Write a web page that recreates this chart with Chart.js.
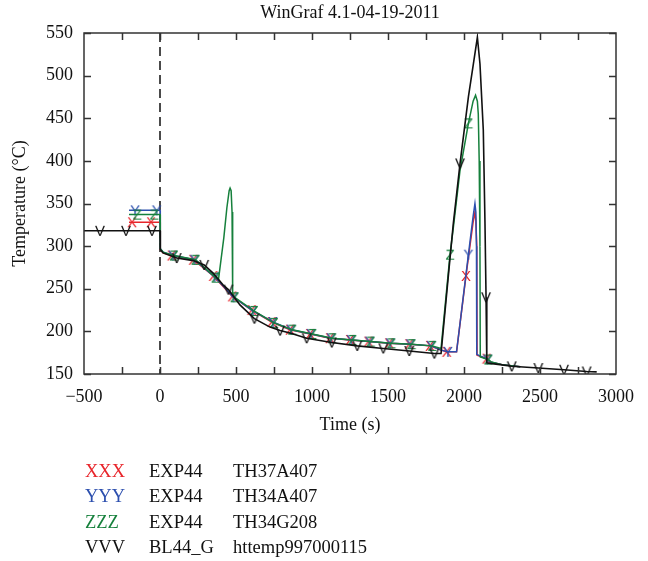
<!DOCTYPE html>
<html>
<head>
<meta charset="utf-8">
<script src="https://cdn.jsdelivr.net/npm/chart.js@4.4.0/dist/chart.umd.min.js"></script>
<style>
html,body{margin:0;padding:0;background:#fff;}
#wrap{position:relative;width:648px;height:561px;}
#c{position:absolute;left:0;top:0;}
#key{position:absolute;left:0;top:459px;font-family:'Liberation Serif',serif;font-size:18.5px;line-height:25.3px;color:#111;}
#key .row{position:relative;height:25.3px;width:648px;white-space:nowrap;}
#key span{position:absolute;top:0;}
</style>
</head>
<body>
<div id="wrap"><canvas id="c" width="648" height="561"></canvas><div id="key"></div></div>
<script>
// XXX  EXP44 TH37A407
const xxxTime=[-204,-184,-59,0,2,20,77,219,351,476,603,735,855,987,1118,1250,1371,1507,1640,1776,1849,1886,1951,2013,2060,2072,2078,2084,2086,2149,2171,2250,2370];
const xxxTemp=[328,328,328,328,296,292,289,284,265,241,225,211,202,197,192,190,188,186,185,183,178,176,176,265,328,340,330,300,172,168,164,161,158.5];
const xxxMarks=[-184,-59,77,219,351,476,603,735,855,987,1118,1250,1371,1507,1640,1776,1886,2013,2149];
// YYY  EXP44 TH34A407
const yyyTime=[-204,-164,-22,0,2,20,85,227,359,484,611,743,863,995,1126,1258,1379,1515,1648,1784,1849,1894,1951,2029,2060,2072,2078,2082,2084,2155,2175,2250,2370];
const yyyTemp=[342,342,342,342,297,293,289,284,264,240,224,211,202,197,192,190,188,186,185,183,178,176,176,290,335,350,340,300,173,167,164,161,158.5];
const yyyMarks=[-164,-22,85,227,359,484,611,743,863,995,1126,1258,1379,1515,1648,1784,1894,2029,2155];
// ZZZ  EXP44 TH34G208
const zzzTime=[-204,-150,-38,0,2,20,92,234,366,385,420,440,455,461,468,474,477,479,491,618,750,870,1002,1133,1265,1386,1522,1655,1791,1849,1908,1930,1974,2029,2060,2076,2088,2094,2100,2105,2107,2160,2180,2250,2370];
const zzzTemp=[337,337,337,337,297,293,289,284,263,261,310,345,365,368,365,340,300,245,240,224,210,202,197,192,190,188,186,185,183,180,290,322,389,444,470,477,470,455,400,300,170,167,164,161,158.5];
const zzzMarks=[-150,-38,92,234,366,491,618,750,870,1002,1133,1265,1386,1522,1655,1791,1908,2029,2160];
// VVV  BL44_G httemp997000115
const vvvTime=[-500,-395,-224,-53,0,2,20,110,219,291,351,417,450,526,621,724,790,855,965,1130,1298,1469,1640,1805,1849,1908,1930,1974,2029,2062,2088,2105,2127,2138,2145,2150,2171,2237,2314,2489,2658,2807,2873];
const vvvTemp=[318,318,318,318,318,296,292,286,283,278,268,254,249,231,215,205,201,198,192,187,183,180,177,174,174,286,327,397,475,514,545,514,436,327,240,163,162.5,161,159,157,155,153,152.5];
const vvvMarks=[-395,-224,-53,110,291,450,621,790,965,1130,1298,1469,1640,1805,1974,2145,2314,2489,2658,2807];

const keyGlyphs=['XXX','YYY','ZZZ','VVV'];
const keyRuns=['EXP44','EXP44','EXP44','BL44_G'];
const keyTags=['TH37A407','TH34A407','TH34G208','httemp997000115'];
const colors=['#e8252b','#2c4fae','#16803c','#111111'];

const xTicksMin=-500, xTicksMax=3000, yTicksMin=150, yTicksMax=550;

function glyph(ch,color){
  const c=document.createElement('canvas');c.width=16;c.height=16;
  const g=c.getContext('2d');
  g.fillStyle=color;g.font="15px 'Liberation Sans'";g.textAlign='center';g.textBaseline='middle';
  g.fillText(ch,8,8.5);
  return c;
}

function series(times,temps,marks,ch,color,order,w){
  const img=glyph(ch,color);
  return {
    data:times.map((t,i)=>({x:t,y:temps[i]})),
    borderColor:color,borderWidth:w,tension:0,fill:false,order:order,
    pointStyle:img,
    pointRadius:c=>marks.includes(times[c.dataIndex])?5:0,
    pointHoverRadius:0
  };
}

const serif="'Liberation Serif', serif";
const minus=v=>v<0?'\u2212'+Math.abs(v):String(v);

const axisBox={
  id:'axisBox',
  beforeDatasetsDraw(ch){
    const {ctx,chartArea:a,scales:{x}}=ch;
    const px=Math.round(x.getPixelForValue(0));
    ctx.save();ctx.strokeStyle='#4a4a4a';ctx.lineWidth=2;ctx.setLineDash([9,5]);
    ctx.beginPath();ctx.moveTo(px,a.top);ctx.lineTo(px,a.bottom);ctx.stroke();ctx.restore();
  },
  afterDatasetsDraw(ch){
    const {ctx,chartArea:a,scales:{x,y}}=ch;
    ctx.save();ctx.strokeStyle='#333';ctx.lineWidth=1.5;
    ctx.strokeRect(a.left,a.top,a.right-a.left,a.bottom-a.top);
    ctx.beginPath();
    for(let v=x.min+250;v<x.max;v+=250){
      const p=Math.round(x.getPixelForValue(v))+0.5;
      ctx.moveTo(p,a.bottom);ctx.lineTo(p,a.bottom-7);
      ctx.moveTo(p,a.top);ctx.lineTo(p,a.top+7);
    }
    y.ticks.forEach(t=>{
      const p=Math.round(y.getPixelForValue(t.value))+0.5;
      ctx.moveTo(a.left,p);ctx.lineTo(a.left+7,p);
      ctx.moveTo(a.right,p);ctx.lineTo(a.right-7,p);
    });
    ctx.stroke();ctx.restore();
  }
};

new Chart(document.getElementById('c'),{
  type:'line',
  data:{datasets:[
    series(vvvTime,vvvTemp,vvvMarks,'V',colors[3],0,1.6),
    series(zzzTime,zzzTemp,zzzMarks,'Z',colors[2],1,1.5),
    series(yyyTime,yyyTemp,yyyMarks,'Y',colors[1],2,1.5),
    series(xxxTime,xxxTemp,xxxMarks,'X',colors[0],3,1.5)
  ]},
  options:{
    responsive:false,animation:false,
    layout:{padding:{left:0,right:32,bottom:125,top:0}},
    plugins:{
      legend:{display:false},tooltip:{enabled:false},
      title:{display:true,text:'WinGraf 4.1-04-19-2011',fullSize:false,color:'#111',
        font:{family:serif,size:18,weight:'normal'},padding:{top:2,bottom:9.4}}
    },
    scales:{
      x:{type:'linear',min:xTicksMin,max:xTicksMax,
        grid:{display:false,drawTicks:false},border:{display:false},
        ticks:{stepSize:500,callback:minus,color:'#111',font:{family:serif,size:18},padding:12,maxRotation:0,autoSkip:false},
        title:{display:true,text:'Time (s)',color:'#111',font:{family:serif,size:18},padding:{top:0,bottom:0}},
        afterFit:s=>{s.height=62;}
      },
      y:{min:yTicksMin,max:yTicksMax,
        grid:{display:false,drawTicks:false},border:{display:false},
        ticks:{stepSize:50,color:'#111',font:{family:serif,size:18},padding:11},
        title:{display:true,text:'Temperature (\u00B0C)',color:'#111',font:{family:serif,size:18},padding:{top:9,bottom:0}},
        afterFit:s=>{s.width=84;}
      }
    }
  },
  plugins:[axisBox]
});

const key=document.getElementById('key');
keyGlyphs.forEach((g,i)=>{
  const row=document.createElement('div');row.className='row';
  row.innerHTML='<span style="left:85px;color:'+colors[i]+'">'+g+'</span><span style="left:149px">'+keyRuns[i]+'</span><span style="left:233px">'+keyTags[i]+'</span>';
  key.appendChild(row);
});
</script>
</body>
</html>
